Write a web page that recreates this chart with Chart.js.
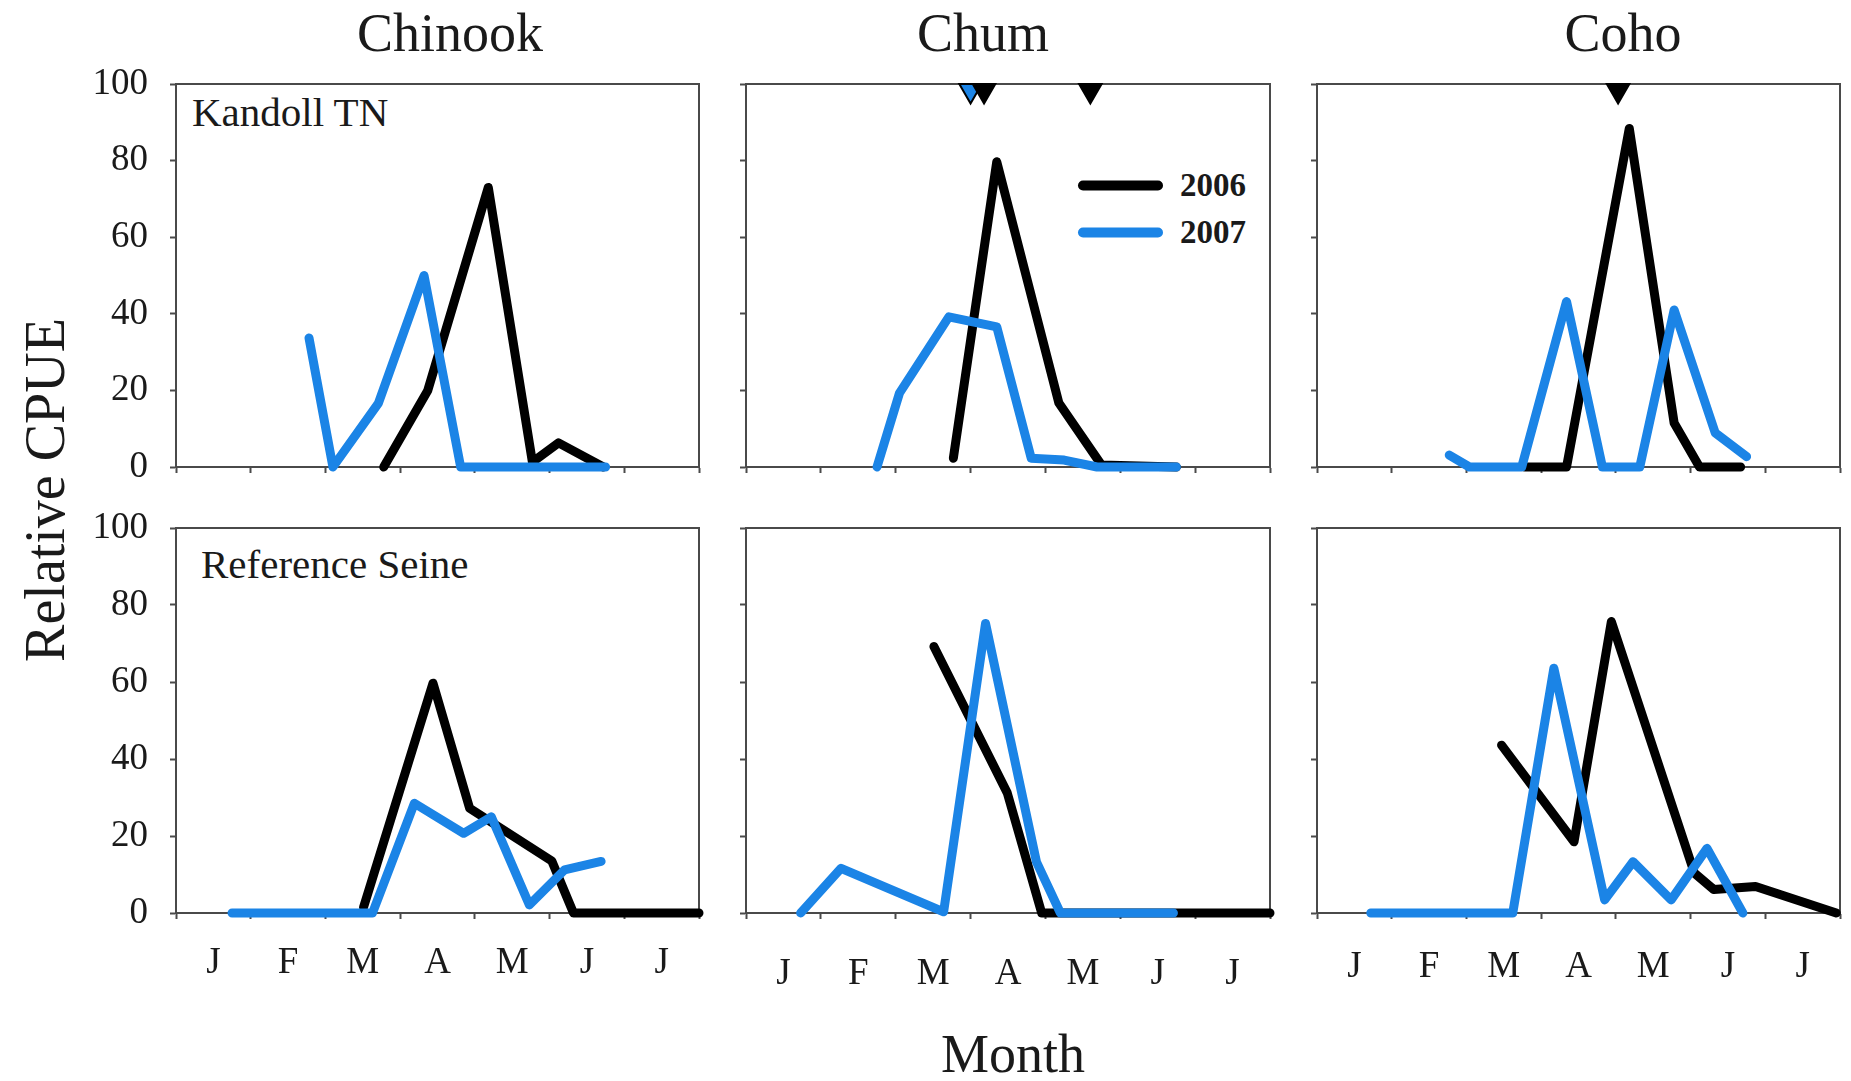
<!DOCTYPE html>
<html lang="en">
<head>
<meta charset="UTF-8">
<title>Relative CPUE by month</title>
<script src="https://cdn.jsdelivr.net/npm/chart.js"></script>
<style>
  body { margin: 0; background: #fff; }
  #page { position: relative; width: 1851px; height: 1081px; overflow: hidden;
          font-family: "Liberation Serif", "Times New Roman", serif; color: #1a1a1a; }
  .txt { position: absolute; white-space: nowrap; line-height: 1; }
  .panel { position: absolute; }
  .legend-row { position: absolute; display: flex; align-items: center; }
  .legend-line { width: 85px; height: 10px; border-radius: 5px; margin-right: 17px; }
  .legend-text { font-weight: bold; font-size: 33px; line-height: 1; }
</style>
</head>
<body>
<div id="page">
  <div class="txt" style="font-size:54px; left:450px; top:33px; transform:translate(-50%,-50%)">Chinook</div>
  <div class="txt" style="font-size:54px; left:983px; top:33px; transform:translate(-50%,-50%)">Chum</div>
  <div class="txt" style="font-size:54px; left:1623px; top:33px; transform:translate(-50%,-50%)">Coho</div>
  <div class="txt" style="font-size:56px; left:45px; top:490px; transform:translate(-50%,-50%) rotate(-90deg)">Relative CPUE</div>
  <div class="txt" style="font-size:54px; left:1013px; top:1054px; transform:translate(-50%,-50%)">Month</div>
  <div class="txt" style="font-size:41px; left:192px; top:112px; transform:translateY(-50%)">Kandoll TN</div>
  <div class="txt" style="font-size:41px; left:201px; top:564px; transform:translateY(-50%)">Reference Seine</div>
  <div id="legend"></div>
</div>

<script>
    // month axis: 0 = start of January, 7 = end of July
    const monthLabels = ["J", "F", "M", "A", "M", "J", "J"];
    const yTicks = [0, 20, 40, 60, 80, 100];
    const years = ["2006", "2007"];

    // [month position, relative CPUE]
    const chinookTN2006 = [[2.78, 0], [3.37, 20], [4.18, 73], [4.77, 1.3], [5.12, 6.3], [5.72, 0]];
    const chinookTN2007 = [[1.78, 33.7], [2.10, 0], [2.71, 16.7], [3.32, 50], [3.81, 0], [5.75, 0]];
    const chumTN2006 = [[2.77, 2.3], [3.35, 79.7], [4.18, 16.7], [4.75, 0.5], [5.75, 0]];
    const chumTN2007 = [[1.75, 0], [2.05, 19.3], [2.71, 39.2], [3.35, 36.6], [3.81, 2.3], [4.25, 1.8], [4.69, 0], [5.75, 0]];
    const cohoTN2006 = [[2.78, 0], [3.34, 0], [4.18, 88.4], [4.78, 11.5], [5.12, 0], [5.67, 0]];
    const cohoTN2007 = [[1.77, 3.1], [2.04, 0], [2.74, 0], [3.34, 43.2], [3.82, 0], [4.32, 0], [4.78, 41], [5.33, 8.9], [5.75, 2.7]];

    const chinookRS2006 = [[2.51, 1.5], [3.44, 59.7], [3.93, 27.2], [5.03, 13.5], [5.32, 0], [7, 0]];
    const chinookRS2007 = [[0.75, 0], [2.63, 0], [3.19, 28.5], [3.85, 20.7], [4.22, 25], [4.73, 2.1], [5.20, 11.2], [5.69, 13.4]];
    const chumRS2006 = [[2.51, 69.2], [3.49, 31.2], [3.95, 0], [7, 0]];
    const chumRS2007 = [[0.73, 0], [1.27, 11.6], [2.64, 0.3], [3.20, 75.2], [3.88, 13.3], [4.20, 0], [5.71, 0]];
    const cohoRS2006 = [[2.47, 43.6], [3.44, 18.5], [3.94, 75.7], [5.05, 10.4], [5.31, 6.1], [5.87, 6.9], [6.95, 0]];
    const cohoRS2007 = [[0.72, 0], [2.62, 0], [3.17, 63.6], [3.85, 3.4], [4.23, 13.3], [4.74, 3.4], [5.22, 16.8], [5.70, 0]];

    // downward triangles hanging from the top edge (month positions)
    const chumMarks2006 = [3.18, 4.60];
    const chumMarks2007 = [3.00];
    const cohoMarks2006 = [4.03];
    const markLevel = 98.3;

    const colors = { "2006": "#000000", "2007": "#1b84e6" };
    const axisColor = "#4a4a4a";
    const serif = "'Liberation Serif', 'Times New Roman', serif";

    Chart.defaults.font.family = serif;
    Chart.defaults.color = "#1a1a1a";

    // fixed room around each plot box so every box lands in the same place
    const Y_AXIS_W = 110, X_AXIS_H = 90, PAD_TOP = 50, PAD_RIGHT = 45;

    // top and right edges of the box
    const framePlugin = {
        id: "frame",
        beforeDatasetsDraw(chart) {
            const a = chart.chartArea, ctx = chart.ctx;
            ctx.save();
            ctx.strokeStyle = axisColor;
            ctx.lineWidth = 2;
            ctx.beginPath();
            ctx.moveTo(a.left, a.top);
            ctx.lineTo(a.right, a.top);
            ctx.lineTo(a.right, a.bottom);
            ctx.stroke();
            ctx.restore();
        }
    };

    function lineSet(year, pts) {
        return {
            label: year,
            data: pts.map(p => ({ x: p[0], y: p[1] })),
            borderColor: colors[year],
            borderWidth: 9,
            borderCapStyle: "round",
            borderJoinStyle: "round",
            pointRadius: 0,
            tension: 0,
            fill: false,
            clip: false
        };
    }

    function markSet(year, months) {
        return {
            label: year + " peak",
            data: months.map(m => ({ x: m, y: markLevel })),
            showLine: false,
            pointStyle: "triangle",
            rotation: 180,
            pointRadius: 13,
            backgroundColor: colors[year],
            borderColor: "#000",
            borderWidth: 2,
            clip: false
        };
    }

    const halfSteps = [];
    for (let i = 0; i <= 14; i++) halfSteps.push(i / 2);

    function makePanel(p) {
        const canvas = document.createElement("canvas");
        const w = p.w + Y_AXIS_W + PAD_RIGHT, h = p.h + PAD_TOP + X_AXIS_H;
        canvas.width = w;
        canvas.height = h;
        const box = document.createElement("div");
        box.className = "panel";
        box.style.left = (p.x - Y_AXIS_W) + "px";
        box.style.top = (p.y - PAD_TOP) + "px";
        box.style.width = w + "px";
        box.style.height = h + "px";
        box.appendChild(canvas);
        document.getElementById("page").appendChild(box);

        // first dataset is drawn on top
        const datasets = [];
        (p.marks || []).forEach(m => datasets.push(markSet(m[0], m[1])));
        datasets.push(lineSet("2007", p.s2007));
        datasets.push(lineSet("2006", p.s2006));

        new Chart(canvas, {
            type: "line",
            data: { datasets: datasets },
            options: {
                responsive: false,
                animation: false,
                events: [],
                layout: { padding: { top: PAD_TOP, right: PAD_RIGHT, left: 0, bottom: 0 } },
                plugins: { legend: { display: false }, tooltip: { enabled: false } },
                scales: {
                    x: {
                        type: "linear",
                        min: 0,
                        max: 7,
                        afterBuildTicks: s => { s.ticks = halfSteps.map(v => ({ value: v })); },
                        afterFit: s => { s.height = X_AXIS_H; },
                        border: { display: true, color: axisColor, width: 2 },
                        grid: {
                            drawOnChartArea: false,
                            drawTicks: true,
                            tickLength: 6,
                            tickWidth: 2,
                            tickColor: ctx => Number.isInteger(ctx.tick.value) ? axisColor : "rgba(0,0,0,0)"
                        },
                        ticks: {
                            display: p.showX,
                            autoSkip: false,
                            maxRotation: 0,
                            minRotation: 0,
                            padding: p.xPad || 21,
                            font: { size: 37 },
                            color: "#1a1a1a",
                            callback: v => Number.isInteger(v) ? "" : monthLabels[Math.floor(v)]
                        }
                    },
                    y: {
                        min: 0,
                        max: 100,
                        afterBuildTicks: s => { s.ticks = yTicks.map(v => ({ value: v })); },
                        afterFit: s => { s.width = Y_AXIS_W; },
                        border: { display: true, color: axisColor, width: 2 },
                        grid: { drawOnChartArea: false, drawTicks: true, tickLength: 6, tickWidth: 2, tickColor: axisColor },
                        ticks: { display: p.showY, padding: 22, font: { size: 37 }, color: "#1a1a1a" }
                    }
                }
            },
            plugins: [framePlugin]
        });
    }

    const cols = [{ x: 176, w: 523 }, { x: 746, w: 524 }, { x: 1317, w: 523 }];
    const rows = [{ y: 84, h: 383 }, { y: 528, h: 385 }];

    const panels = [
        { c: 0, r: 0, s2006: chinookTN2006, s2007: chinookTN2007, showY: true, showX: false },
        { c: 1, r: 0, s2006: chumTN2006, s2007: chumTN2007, showY: false, showX: false,
          marks: [["2006", chumMarks2006], ["2007", chumMarks2007]] },
        { c: 2, r: 0, s2006: cohoTN2006, s2007: cohoTN2007, showY: false, showX: false,
          marks: [["2006", cohoMarks2006]] },
        { c: 0, r: 1, s2006: chinookRS2006, s2007: chinookRS2007, showY: true, showX: true, xPad: 22 },
        { c: 1, r: 1, s2006: chumRS2006, s2007: chumRS2007, showY: false, showX: true, xPad: 33 },
        { c: 2, r: 1, s2006: cohoRS2006, s2007: cohoRS2007, showY: false, showX: true, xPad: 26 }
    ];

    panels.forEach(p => {
        makePanel(Object.assign({}, p, { x: cols[p.c].x, w: cols[p.c].w, y: rows[p.r].y, h: rows[p.r].h }));
    });

    // legend inside the Chum / Kandoll TN box
    const legend = document.getElementById("legend");
    years.forEach((yr, i) => {
        const row = document.createElement("div");
        row.className = "legend-row";
        row.style.left = "1078px";
        row.style.top = (185 + i * 47) + "px";
        row.style.transform = "translateY(-50%)";
        row.innerHTML = '<div class="legend-line" style="background:' + colors[yr] + '"></div>' +
                        '<div class="legend-text">' + yr + '</div>';
        legend.appendChild(row);
    });
</script>
</body>
</html>
